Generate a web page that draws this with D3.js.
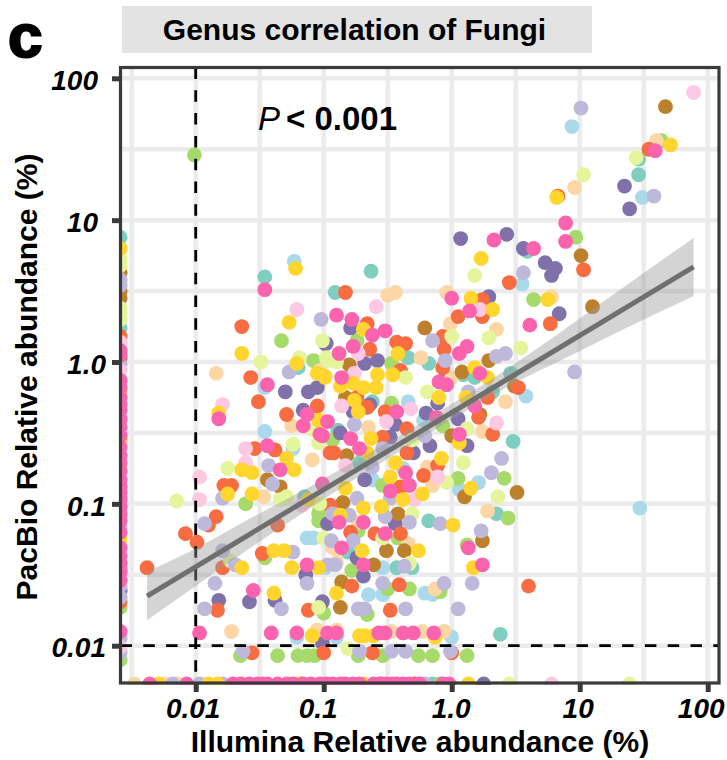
<!DOCTYPE html>
<html><head><meta charset="utf-8">
<script src="https://cdn.jsdelivr.net/npm/d3@7"></script>
<style>html,body{margin:0;padding:0;background:#fff}svg{display:block}text{font-family:"Liberation Sans",Arial,sans-serif}</style>
</head><body><svg id="c" width="727" height="760"></svg>
<script>
// All values are log10(relative abundance %), pairs are [Illumina, PacBio]
const teal=[[-1.20,-.04],[-1.46,.60],[-.63,.64],[-.91,.49],[-.34,.03],[-.18,-.01],[.09,-.09],[.18,-.11],[.46,-.08],[.32,-.21],[-.89,-.48],[-.62,-.28],[-.72,-.71],[.48,-.56],[-1.15,-.95],[-.81,-1.34],[-.18,-1.12],[.35,-1.07],[-.43,-1.45],[-.31,-1.45],[.38,-1.92],[.59,.78],[1.46,1.43],[1.46,1.32]];
const lightblue=[[-1.46,-.18],[-1.46,-.49],[-1.24,-.61],[-1.23,.71],[-.34,-.28],[-.22,-.41],[.58,-.24],[-.38,-.75],[.21,-.85],[.06,-.90],[-.62,-.83],[-1.13,-1.24],[-1.08,-1.24],[-.99,-1.45],[-.54,-1.45],[-.65,-1.64],[-.54,-1.64],[-.21,-1.63],[-.15,-1.64],[-1.21,-1.94],[-.90,-1.94],[0,-1.94],[.55,.55],[.94,1.66],[1.49,1.16],[1.47,-1.03]];
const green=[[-1.33,.15],[-1.08,.01],[-.74,.15],[-.47,-.01],[-.47,-.29],[-.07,-.45],[-.93,-.55],[-1.61,-1.00],[-1.04,-1.07],[-.54,-.87],[.05,-.82],[.41,-.82],[.44,-1.10],[-1.03,-1.03],[-1.04,-1.12],[-.73,-1.19],[-.42,-1.24],[-1.46,-1.38],[.12,-1.29],[-.78,-1.47],[-.50,-1.60],[-.33,-1.60],[-.09,-1.62],[-1.00,-1.77],[-.66,-1.78],[-2.01,1.46],[.64,.44],[.97,.88],[1.64,1.56],[-1.65,-2.07],[-1.36,-2.07],[-1.20,-2.07],[-1.13,-2.07],[-1.07,-2.07],[-.73,-2.07],[-.54,-2.07],[-.26,-2.07],[-.15,-2.07],[.12,-2.07]];
const purple=[[-.99,.13],[-1.30,-.21],[-1.12,-.21],[-1.05,-.18],[-1.16,-.34],[-.79,.24],[-.98,.13],[-.68,-.01],[-.58,.01],[.29,.46],[.78,.61],[.84,.34],[.81,.66],[.73,.70],[-.07,-.13],[-.11,-.29],[-.64,-.30],[-.77,-.35],[-.20,-.36],[-.87,-.50],[-.48,-.53],[-.44,-.44],[-.17,-.59],[.12,-.59],[-.30,-.64],[.05,-.40],[-.68,-.83],[-.97,-1.14],[-.44,-1.14],[-1.82,-1.68],[-1.58,-1.69],[-1.38,-1.68],[-1.14,-1.50],[-1.01,-1.69],[-.69,-1.51],[-.74,-1.38],[-1.01,-1.98],[.07,.87],[.43,.90],[.56,.80],[1.35,1.24],[1.39,1.08]];
const peach=[[-1.03,-.06],[-1.84,-.08],[-1.25,-.45],[-1.09,-.69],[-1.47,-.95],[-.50,.47],[-.44,.49],[-.04,.49],[-.01,.27],[.35,.23],[.78,.46],[-.24,.03],[0,-.11],[.42,-.28],[.24,-.49],[-.65,-.46],[-.19,-.74],[-.15,-.87],[.28,-1.05],[-.34,-1.28],[-.93,-1.31],[-.90,-1.41],[-.13,-1.60],[-1.72,-1.90],[-1.05,-1.89],[-.90,-1.89],[-.47,-1.90],[-.23,-1.90],[-.06,-1.90],[.96,1.23],[1.60,1.56],[-.73,-1.13]];
const brown=[[-1.44,-.83],[-1.34,-.88],[-.80,-.02],[-.21,.24],[.29,.01],[.08,-.07],[.49,-.17],[.22,-.37],[-.83,-.25],[0,-.52],[-.82,-.66],[-.85,-.99],[.10,-.95],[.51,-.92],[-.42,-1.07],[-.51,-1.33],[-.37,-1.33],[-.61,-1.43],[.24,-1.26],[-.86,-1.55],[-.87,-1.73],[1.67,1.80],[1.01,.75],[1.10,.39]];
const orange=[[-1.64,.25],[-1.57,-.11],[-1.51,-.28],[-1.29,-.37],[-1.05,-.31],[-1.54,-.61],[-1.38,-.62],[-.95,-.64],[-1.78,-.87],[-1.72,-.87],[-1.84,-1.09],[-.95,-1.01],[-.83,.49],[-.66,.27],[-.64,.09],[-.07,.18],[-.06,.09],[.05,.32],[.24,.44],[.24,.32],[.45,.56],[.77,.27],[-.43,.14],[-.36,.13],[-.40,-.06],[-.07,-.04],[-.74,-.25],[-.66,-.32],[-.52,-.35],[.52,-.18],[.28,-.25],[.21,-.39],[.32,-.51],[-.35,-.47],[-.92,-.64],[-.54,-.53],[-.35,-.64],[-.11,-.73],[-.22,-.80],[-.40,-.88],[-.60,-1.21],[-.40,-1.21],[-.79,-1.20],[-2.38,-1.45],[-2.08,-1.21],[-1.99,-1.27],[-1.90,-1.15],[-1.36,-1.15],[-1.79,-1.45],[-1.48,-1.35],[-.78,-1.58],[-1.83,-1.75],[-1.12,-1.75],[-.48,-1.75],[-.41,-1.57],[.60,-1.58],[-1.56,-2.05],[-1.00,-2.05],[-.62,-2.05],[0,-2.05],[.83,1.17],[1.03,.65],[1.54,1.50]];
const lime=[[-1.01,.15],[-1.49,0],[-1.19,.03],[-.97,.01],[-1.08,-.48],[-1.04,-.57],[-1.24,-.58],[-1.75,-.75],[-2.15,-.98],[-1.34,-.97],[-1.29,-.95],[-1.03,-1.00],[-.98,.03],[-.90,0],[0,.18],[.29,.17],[.54,.10],[-.36,-.11],[-.19,-.21],[.12,-.47],[-.31,-.55],[.09,-.71],[-.04,-.85],[.36,-.95],[-.31,-1.07],[-.54,-1.24],[-1.73,-1.40],[-1.00,-1.24],[-.33,-1.42],[-1.04,-1.73],[-.81,-2.02],[.18,.61],[1.03,1.32],[1.44,1.44]];
const lavender=[[-1.02,.30],[-1.27,-.07],[-1.43,-.73],[-1.40,-.86],[-1.79,-.96],[-.15,.15],[-.05,.01],[.35,.04],[.42,.06],[.13,-.21],[-.76,-.44],[-.54,-.61],[-.21,-.52],[.39,-.68],[-.62,-.74],[.31,-.78],[-.74,-.96],[-.48,-.96],[-.93,-1.07],[-.80,-1.08],[-.52,-1.09],[-.33,-1.13],[-.09,-1.14],[-1.93,-1.14],[-1.79,-1.33],[-1.69,-1.43],[-1.24,-1.34],[-1.85,-1.56],[-1.93,-1.74],[-1.33,-1.74],[-1.13,-1.56],[-.97,-1.43],[-.91,-1.43],[-.94,-1.26],[-.77,-1.26],[-.73,-1.74],[-.68,-1.74],[-.37,-1.44],[-.54,-1.56],[-.06,-1.56],[.16,-1.56],[-.36,-1.74],[.05,-1.74],[.23,-1.19],[-1.63,-2.04],[-.72,-2.04],[-.47,-2.04],[-.36,-2.04],[-.01,-2.04],[1.01,1.79],[1.58,1.17],[.56,.63],[.96,-.07]];
const lightpink=[[-1.21,.37],[-1.79,-.30],[-1.61,-.61],[-1.61,-.71],[-1.97,-.81],[-1.97,-.97],[-1.17,-1.01],[-.59,.39],[-.73,.06],[-.76,-.08],[-.86,-.31],[.22,.37],[-.32,-.33],[-.51,-.42],[.35,-.43],[-.83,-.73],[-.11,-.81],[-.29,-.97],[1.89,1.90]];
const yellow=[[-1.27,.28],[-1.64,.06],[-1.21,-.01],[-1.05,-.08],[-.99,-.11],[-1.82,-.36],[-1.04,-.41],[-1.29,-.68],[-1.23,-.76],[-1.64,-.76],[-1.56,-.78],[-1.75,-.93],[-1.56,-.93],[-1.12,-.97],[-.69,.23],[-.42,.06],[.15,.45],[.32,.37],[.75,.44],[.18,-.04],[.28,-.11],[-.46,-.09],[-.58,-.09],[-.99,-.10],[-.87,-.17],[-.77,-.15],[-.69,-.18],[-.59,-.18],[-.10,-.25],[.11,-.25],[-.76,-.27],[-.73,-.35],[-.63,-.54],[-.66,-.64],[.06,-.57],[-.44,-.71],[-.08,-.68],[-.48,-.81],[.15,-.89],[-.23,-.93],[-.38,-.97],[-.83,-.89],[-.69,-1.03],[-.55,-1.02],[.01,-1.15],[-.87,-1.08],[-.26,-1.33],[-.70,-1.33],[-1.25,-1.45],[-1.39,-1.33],[-1.31,-1.33],[-1.64,-1.45],[-1.04,-1.45],[.17,-1.45],[-1.39,-1.63],[-.90,-1.63],[-1.09,-1.93],[-.72,-1.93],[-.68,-1.93],[-.61,-1.93],[-.13,-1.94],[.23,.73],[.82,1.16],[1.71,1.53],[-1.22,.66]];
const pink=[[-1.46,.51],[-1.44,-.16],[-1.82,-.40],[-1.13,-.37],[-1.16,-.45],[-.97,-.42],[-1.03,-.51],[-1.44,-.59],[-1.34,-.76],[-1.01,-.86],[-.90,.33],[-.78,.30],[-.62,.19],[-.52,.22],[-.77,.11],[-.88,.06],[-.86,-.11],[0,.45],[.14,.36],[.61,.26],[.12,.11],[.06,.06],[.22,-.08],[-.10,-.14],[-.04,-.16],[.18,-.31],[-.43,-.35],[-.12,-.39],[.06,-.51],[-.79,-.54],[-.72,-.61],[-1.01,-.52],[-.36,-.78],[-.33,-.87],[-.48,-.91],[-1.13,-1.43],[-.88,-1.13],[-.69,-1.43],[-.69,-1.13],[-.86,-1.31],[-.52,-1.21],[.13,-1.31],[.24,-1.43],[-1.55,-1.61],[-1.97,-1.91],[-1.41,-1.91],[-1.21,-1.91],[-.97,-1.91],[-.90,-1.91],[-.57,-1.91],[-.52,-1.91],[-.38,-1.91],[-.30,-1.91],[-.14,-1.91],[.89,.98],[.89,.85],[.33,.86],[.64,.80],[1.59,1.49]];

// Genera absent from Illumina (left edge): PacBio values only
const zeroIlluminaLog=-2.59;
const tealL=[.88,.24], yellowL=[.80,-.21,-.41,-.55,-.76,-.88,-.95,-1.09,-1.25], limeL=[.73,.68,.38,.35,.30], brownL=[.63,.50,.45,.03],
 lavenderL=[.58,.54,-.02,-1.16,-1.47,-1.58,-1.66,-1.95,-2.05], orangeL=[.18,-1.45,-1.69], lightpinkL=[.14,-.06,-2.01],
 pinkL=[.08,.05,-.13,-.18,-.25,-.30,-.34,-.40,-.46,-.52,-.60,-.66,-.71,-.77,-.83,-.88,-.92,-.97,-1.02,-1.07,-1.12,-1.20,-1.31,-1.37,-1.42,-1.48,-1.54,-1.90], purpleL=[-1.61], greenL=[-1.73,-2.10];
// Genera absent from PacBio (bottom edge): Illumina values only
const zeroPacBioLog=-2.27;
const pinkB=[-2.36,-2.07,-1.71,-1.65,-1.58,-1.52,-1.48,-1.44,-1.36,-1.29,-1.24,-1.16,-1.10,-1.03,-.98,-.93,-.87,-.83,-.77,-.72,-.61,-.55,-.51,-.47,-.43,-.38,-.33,-.25,-.07,-.02],
 yellowB=[-2.29,-1.90,-1.83,-1.64,-1.21,-.85,-.69,-.44,.13], peachB=[-2.48,-2.24,-2.14], lavenderB=[-2.18,-1.97,-1.79,-.21],
 purpleB=[.25], brownB=[-.29], tealB=[-.15], limeB=[.45,1.39], lightpinkB=[.78], orangeB=[-1.18,-.56], greenB=[-.09];

// Linear fit and confidence band (log10)
const fitX=[-2.38,1.89], fitY=[-1.65,.67];
const bandX=[-2.38,-1.97,-1.58,-1.19,-.79,-.40,-.09,.22,.53,.85,1.16,1.55,1.89];
const bandLow=[-1.82,-1.56,-1.315,-1.08,-.845,-.625,-.455,-.285,-.13,.01,.15,.32,.465];
const bandHigh=[-1.48,-1.30,-1.105,-.92,-.715,-.515,-.345,-.175,.01,.21,.41,.66,.875];

const xTicks=[0.01,0.1,1,10,100], yTicks=[100,10,1,0.1,0.01];
const xLabels=["0.01","0.1","1.0","10","100"], yLabels=["100","10","1.0","0.1","0.01"];
const gridLogX=[-2.5,-2,-1.5,-1,-.5,0,.5,1,1.5,2], gridLogY=[2,1.5,1,.5,0,-.5,-1,-1.5,-2];
const threshold=0.01;

const series=[
 ["#7FCEBF",teal,tealL,tealB],["#A9D9EA",lightblue,[],[]],["#A6DA6A",green,greenL,greenB],["#8071AB",purple,purpleL,purpleB],
 ["#FDD6A6",peach,[],peachB],["#BD812D",brown,brownL,brownB],["#F76C40",orange,orangeL,orangeB],["#E4F59B",lime,limeL,limeB],
 ["#BEB9DB",lavender,lavenderL,lavenderB],["#FDC8E4",lightpink,lightpinkL,lightpinkB],["#FFD52E",yellow,yellowL,yellowB],["#FB63AE",pink,pinkL,pinkB]];

const L=120.5,R=719,T=67.5,B=683;
const x=d3.scaleLog().domain([0.01,100]).range([195.7,707.7]);
const y=d3.scaleLog().domain([0.01,100]).range([645.7,78.3]);
const p=v=>Math.pow(10,v);
const svg=d3.select("#c");
svg.append("defs").append("clipPath").attr("id","panel").append("rect").attr("x",L).attr("y",T).attr("width",R-L).attr("height",B-T+2);

// header
svg.append("rect").attr("x",122).attr("y",6).attr("width",470).attr("height",47).attr("fill","#E3E3E3");
svg.append("text").attr("x",354.5).attr("y",40).attr("text-anchor","middle").attr("font-size",30).attr("font-weight",700).text("Genus correlation of Fungi");
svg.append("text").attr("x",8).attr("y",57).attr("font-size",62).attr("font-weight",700).attr("stroke","#000").attr("stroke-width",2.2).text("c");

// grid
const g=svg.append("g").attr("clip-path","url(#panel)");
g.selectAll(".gx").data(gridLogX).join("line").attr("x1",d=>x(p(d))).attr("x2",d=>x(p(d))).attr("y1",T).attr("y2",B).attr("stroke","#EBEBEB").attr("stroke-width",4.5);
g.selectAll(".gy").data(gridLogY).join("line").attr("y1",d=>y(p(d))).attr("y2",d=>y(p(d))).attr("x1",L).attr("x2",R).attr("stroke","#EBEBEB").attr("stroke-width",4.5);

// points
series.forEach(([col,pts,left,bottom])=>{
  const all=pts.concat(left.map(v=>[zeroIlluminaLog,v]),bottom.map(v=>[v,zeroPacBioLog]));
  g.append("g").selectAll("circle").data(all).join("circle")
   .attr("cx",d=>x(p(d[0]))).attr("cy",d=>y(p(d[1]))).attr("r",7.4).attr("fill",col);
});

// threshold lines
g.append("line").attr("x1",x(threshold)).attr("x2",x(threshold)).attr("y1",T).attr("y2",B).attr("stroke","#000").attr("stroke-width",2.8).attr("stroke-dasharray","11.5,11.3");
g.append("line").attr("x1",L).attr("x2",R).attr("y1",y(threshold)).attr("y2",y(threshold)).attr("stroke","#000").attr("stroke-width",2.8).attr("stroke-dasharray","11.5,11.3");

// fit
const area=d3.area().x((d,i)=>x(p(bandX[i]))).y0((d,i)=>y(p(bandLow[i]))).y1((d,i)=>y(p(bandHigh[i]))).curve(d3.curveMonotoneX);
g.append("path").datum(bandX).attr("d",area).attr("fill","#999").attr("fill-opacity",.42);
g.append("line").attr("x1",x(p(fitX[0]))).attr("x2",x(p(fitX[1]))).attr("y1",y(p(fitY[0]))).attr("y2",y(p(fitY[1]))).attr("stroke","#6F6F6F").attr("stroke-width",5);

// frame
svg.append("rect").attr("x",L).attr("y",T).attr("width",R-L).attr("height",B-T).attr("fill","none").attr("stroke","#3A3A3A").attr("stroke-width",3.2);

// axes
const ax=d3.axisBottom(x).tickValues(xTicks).tickFormat((d,i)=>xLabels[i]).tickSize(8).tickPadding(6);
const ay=d3.axisLeft(y).tickValues(yTicks).tickFormat((d,i)=>yLabels[i]).tickSize(8).tickPadding(6);
const gx=svg.append("g").attr("transform",`translate(0,${B+1})`).call(ax);
const gy=svg.append("g").attr("transform",`translate(${L-.5},0)`).call(ay);
[gx,gy].forEach(a=>{a.select(".domain").remove();a.selectAll("line").attr("stroke","#3A3A3A").attr("stroke-width",5);
  a.selectAll("text").attr("fill","#000").attr("font-size",28).attr("font-weight",700).attr("font-style","italic").attr("font-family",'"Liberation Sans",Arial,sans-serif');});
// the reference's labels sit slightly off their ticks
const xLabelShift=[-3,-6,-1,-2,-7];
gx.selectAll("text").attr("dx",(d,i)=>xLabelShift[i]);
gy.selectAll("text").attr("dx",(d,i)=>i<2?-8:0).attr("dy","0.4em");

svg.append("text").attr("x",420).attr("y",752).attr("text-anchor","middle").attr("font-size",30).attr("font-weight",700).text("Illumina Relative abundance (%)");
svg.append("text").attr("transform","translate(37,377) rotate(-90)").attr("text-anchor","middle").attr("font-size",30).attr("font-weight",700).text("PacBio Relative abundance (%)");

const pt=svg.append("text").attr("x",258).attr("y",130).attr("font-size",33);
pt.append("tspan").attr("font-style","italic").text("P");
pt.append("tspan").attr("font-weight",700).attr("dx",6).text("< 0.001");
</script></body></html>
